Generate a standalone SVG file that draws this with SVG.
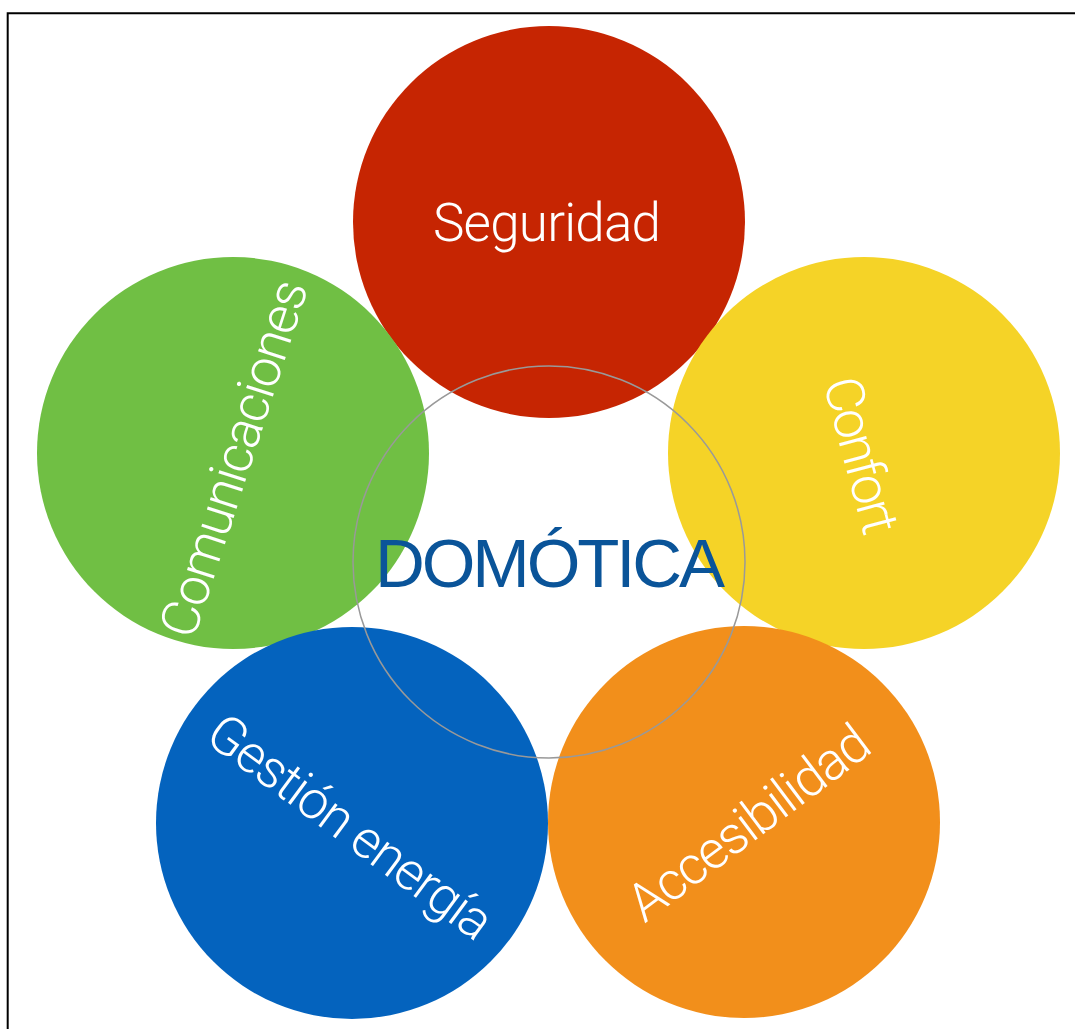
<svg xmlns="http://www.w3.org/2000/svg" width="1075" height="1029" viewBox="0 0 1075 1029">
<style>
.lbl{font-family:Roboto,"Liberation Sans",sans-serif;font-weight:300;font-size:53px;fill:#fff;text-anchor:middle}
.title{font-family:"Liberation Sans",Arial,sans-serif;font-size:69px;fill:#0A5499;text-anchor:middle}
</style>
<rect width="1075" height="1029" fill="#fff"/>
<path d="M1076,13.3 H7.7 V1030" fill="none" stroke="#000" stroke-width="2"/>
<g id="seguridad">
<circle cx="549" cy="222" r="196" fill="#C62502"/>
<text class="lbl" x="547" y="241" textLength="228">Seguridad</text>
</g>
<g id="comunicaciones">
<circle cx="233" cy="453" r="196" fill="#70BF44"/>
<text class="lbl" transform="translate(233,458) rotate(-72)" x="0" y="19" textLength="372">Comunicaciones</text>
</g>
<g id="confort">
<circle cx="864" cy="453" r="196" fill="#F5D327"/>
<text class="lbl" transform="translate(862,455) rotate(75)" x="0" y="19" textLength="160">Confort</text>
</g>
<g id="gestion">
<circle cx="352" cy="823" r="196" fill="#0463BE"/>
<text class="lbl" transform="translate(351,826) rotate(36.5)" x="0" y="19" textLength="340">Gestión energía</text>
</g>
<g id="accesibilidad">
<circle cx="744" cy="822" r="196" fill="#F28F1B"/>
<text class="lbl" transform="translate(748,822) rotate(-37)" x="0" y="19" textLength="288">Accesibilidad</text>
</g>
<g id="domotica">
<circle cx="549" cy="562" r="196" fill="none" stroke="#999" stroke-width="1.5"/>
<text class="title" x="550" y="587" textLength="350">DOMÓTICA</text>
</g>
<g id="connectors"/>
</svg>
